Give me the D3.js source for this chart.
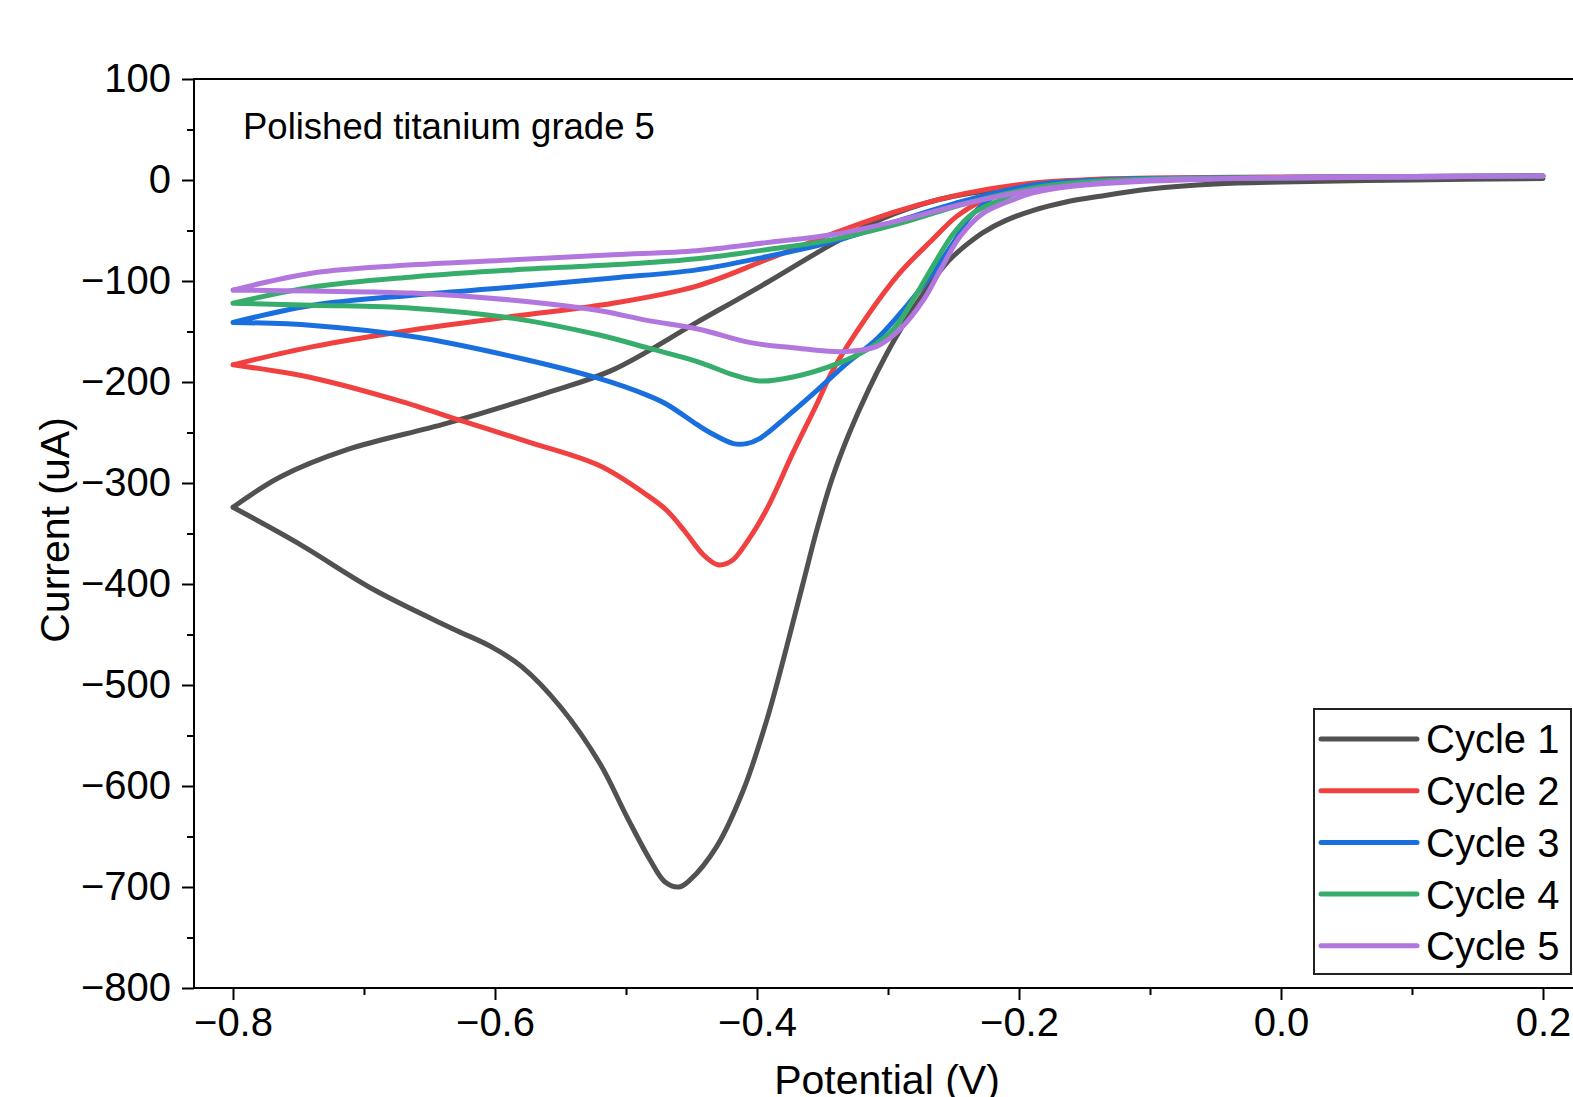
<!DOCTYPE html>
<html>
<head>
<meta charset="utf-8">
<script src="https://cdn.jsdelivr.net/npm/d3@7/dist/d3.min.js"></script>
<style>
  html, body { margin: 0; padding: 0; background: #fff; }
  svg { display: block; font-family: "Liberation Sans", Arial, Helvetica, sans-serif; }
</style>
</head>
<body>
<svg id="chart" width="1573" height="1097"></svg>
<script>
// ---- Data (Potential V, Current uA) ----
const seriesNames = ["Cycle 1", "Cycle 2", "Cycle 3", "Cycle 4", "Cycle 5"];
const seriesColors = ["#515151", "#F14040", "#1A6FDF", "#37AD6B", "#B177DE"];

// forward (cathodic) sweep: 0.2 V -> -0.8 V
const cycle1Forward = [[0.2,1.5],[0.1,0],[0.0,-2],[-0.05,-4],[-0.1,-9],[-0.138,-16],[-0.165,-22],[-0.189,-30],[-0.21,-40],[-0.2275,-52],[-0.24,-64],[-0.253,-79],[-0.265,-98],[-0.278,-122],[-0.29,-147],[-0.301,-172],[-0.315,-208],[-0.33,-252],[-0.343,-297],[-0.354,-345],[-0.365,-400],[-0.3773,-462],[-0.3926,-535],[-0.4104,-604],[-0.4308,-660],[-0.4511,-693],[-0.4595,-700],[-0.4702,-695],[-0.4817,-673],[-0.4995,-630],[-0.5198,-578],[-0.5498,-522],[-0.5794,-482],[-0.603,-462],[-0.6328,-444],[-0.692,-406],[-0.7511,-359],[-0.8,-324]];
// reverse (anodic) sweep: -0.8 V -> 0.2 V
const cycle1Reverse = [[-0.8,-324],[-0.764,-294],[-0.713,-267],[-0.637,-241],[-0.561,-211],[-0.51,-188],[-0.446,-141],[-0.393,-102],[-0.342,-63],[-0.304,-38],[-0.266,-21],[-0.215,-9],[-0.163,-3],[-0.1,0],[0.0,1.5],[0.1,1.8],[0.2,1.5]];

const cycle2Forward = [[0.2,4],[0.1,3],[0.0,2],[-0.1,1],[-0.15,-1],[-0.19,-5],[-0.21,-11],[-0.2275,-20],[-0.2476,-36],[-0.266,-59],[-0.291,-92],[-0.316,-135],[-0.342,-188],[-0.354,-221],[-0.3725,-270],[-0.393,-327],[-0.408,-359],[-0.4193,-377],[-0.4298,-381],[-0.441,-371],[-0.455,-348],[-0.469,-327],[-0.484,-312],[-0.52,-283],[-0.573,-260],[-0.624,-239],[-0.675,-218],[-0.739,-196],[-0.8,-183]];
const cycle2Reverse = [[-0.8,-183],[-0.739,-165],[-0.663,-148.5],[-0.586,-135],[-0.51,-122],[-0.446,-105],[-0.393,-79],[-0.342,-53],[-0.291,-30],[-0.24,-13],[-0.189,-3],[-0.138,1],[-0.1,2],[0.0,3],[0.1,3.5],[0.2,4]];

const cycle3Forward = [[0.2,4],[0.1,3],[0.0,2],[-0.1,0.5],[-0.15,-1.5],[-0.18,-4],[-0.2,-8],[-0.2145,-13],[-0.237,-36],[-0.25,-62],[-0.266,-92],[-0.286,-125],[-0.309,-158],[-0.331,-181],[-0.354,-208],[-0.377,-234],[-0.398,-256],[-0.408,-261],[-0.418,-261],[-0.436,-250],[-0.446,-242],[-0.469,-222],[-0.484,-213],[-0.522,-196],[-0.586,-175],[-0.663,-155],[-0.739,-144],[-0.8,-141]];
const cycle3Reverse = [[-0.8,-141],[-0.739,-124],[-0.663,-114],[-0.586,-106],[-0.51,-97],[-0.446,-89],[-0.393,-76],[-0.342,-61],[-0.291,-40],[-0.24,-20],[-0.189,-5],[-0.138,0],[-0.1,1.5],[0.0,2.5],[0.1,3.5],[0.2,4]];

const cycle4Forward = [[0.2,4],[0.1,3],[0.0,2],[-0.1,0.5],[-0.15,-2],[-0.18,-6],[-0.2,-12],[-0.2145,-20],[-0.235,-33],[-0.25,-53],[-0.266,-86],[-0.281,-119],[-0.296,-148],[-0.316,-168],[-0.337,-181],[-0.3725,-195],[-0.398,-199],[-0.418,-193],[-0.445,-180],[-0.484,-166],[-0.522,-153],[-0.586,-137],[-0.663,-127],[-0.739,-124],[-0.8,-122]];
const cycle4Reverse = [[-0.8,-122],[-0.739,-106],[-0.663,-96],[-0.586,-89],[-0.51,-84],[-0.446,-78],[-0.393,-69],[-0.342,-59],[-0.291,-43],[-0.24,-23],[-0.189,-8],[-0.138,-1],[-0.1,1],[0.0,2.5],[0.1,3.5],[0.2,4]];

const cycle5Forward = [[0.2,4],[0.1,3.5],[0.0,2.5],[-0.1,-1],[-0.14,-4],[-0.17,-8],[-0.19,-13],[-0.2015,-18],[-0.2275,-33],[-0.245,-56],[-0.26,-89],[-0.273,-119],[-0.291,-148],[-0.309,-165],[-0.335,-170],[-0.3725,-166],[-0.405,-161],[-0.4435,-148],[-0.484,-139],[-0.522,-129],[-0.586,-119],[-0.663,-112],[-0.739,-110],[-0.8,-109]];
const cycle5Reverse = [[-0.8,-109],[-0.739,-92],[-0.663,-84],[-0.586,-79],[-0.51,-74],[-0.446,-70],[-0.393,-62],[-0.342,-54],[-0.291,-40],[-0.24,-23],[-0.189,-10],[-0.138,-3],[-0.1,0],[0.0,2],[0.1,3],[0.2,4]];

const xMajorTicks = [-0.8, -0.6, -0.4, -0.2, 0.0, 0.2];
const xMinorTicks = [-0.7, -0.5, -0.3, -0.1, 0.1];
const yMajorTicks = [-800, -700, -600, -500, -400, -300, -200, -100, 0, 100];
const yMinorTicks = [-750, -650, -550, -450, -350, -250, -150, -50, 50];

const annotationText = "Polished titanium grade 5";
const xTitle = "Potential (V)";
const yTitle = "Current (uA)";

// ---- Layout ----
const cycles = [
  [cycle1Forward, cycle1Reverse],
  [cycle2Forward, cycle2Reverse],
  [cycle3Forward, cycle3Reverse],
  [cycle4Forward, cycle4Reverse],
  [cycle5Forward, cycle5Reverse]
];

const svg = d3.select("#chart");
const x = d3.scaleLinear().domain([-0.8, 0.2]).range([233, 1543]);
const y = d3.scaleLinear().domain([-800, 100]).range([988, 79]);
const xRightPx = 1700;

const axisColor = "#000";
const fmtX = d3.format(".1f");

// Bottom axis (major)
const gx = svg.append("g").attr("transform", `translate(0,${y(-800)})`);
gx.call(d3.axisBottom(x).tickValues(xMajorTicks).tickFormat(fmtX).tickSize(12).tickSizeOuter(0).tickPadding(8));
gx.select(".domain").remove();
gx.selectAll(".tick line").attr("stroke", axisColor).attr("stroke-width", 2);
gx.selectAll(".tick text").attr("font-size", 40).attr("fill", "#000")
  .attr("font-family", "'Liberation Sans', Arial, sans-serif");
// minor
const gxm = svg.append("g").attr("transform", `translate(0,${y(-800)})`);
gxm.call(d3.axisBottom(x).tickValues(xMinorTicks).tickFormat("").tickSize(7).tickSizeOuter(0));
gxm.select(".domain").remove();
gxm.selectAll(".tick line").attr("stroke", axisColor).attr("stroke-width", 2);

// Left axis
const gy = svg.append("g").attr("transform", `translate(194,0)`);
gy.call(d3.axisLeft(y).tickValues(yMajorTicks).tickFormat(d3.format("d")).tickSize(12).tickSizeOuter(0).tickPadding(11));
gy.select(".domain").remove();
gy.selectAll(".tick line").attr("stroke", axisColor).attr("stroke-width", 2);
gy.selectAll(".tick text").attr("font-size", 40).attr("fill", "#000")
  .attr("font-family", "'Liberation Sans', Arial, sans-serif");
const gym = svg.append("g").attr("transform", `translate(194,0)`);
gym.call(d3.axisLeft(y).tickValues(yMinorTicks).tickFormat("").tickSize(7).tickSizeOuter(0));
gym.select(".domain").remove();
gym.selectAll(".tick line").attr("stroke", axisColor).attr("stroke-width", 2);

// Frame lines
svg.append("line").attr("x1", 194).attr("x2", 194).attr("y1", y(100) - 1).attr("y2", y(-800) + 1)
  .attr("stroke", axisColor).attr("stroke-width", 2);
svg.append("line").attr("x1", 193).attr("x2", xRightPx).attr("y1", y(-800)).attr("y2", y(-800))
  .attr("stroke", axisColor).attr("stroke-width", 2);
svg.append("line").attr("x1", 193).attr("x2", xRightPx).attr("y1", y(100)).attr("y2", y(100))
  .attr("stroke", axisColor).attr("stroke-width", 2);

// Curves
const line = d3.line().x(d => x(d[0])).y(d => y(d[1])).curve(d3.curveCatmullRom.alpha(0.5));
svg.append("g").selectAll("path").data(cycles).join("path")
  .attr("d", d => line(d[0]) + line(d[1]))
  .attr("fill", "none")
  .attr("stroke", (d, i) => seriesColors[i])
  .attr("stroke-width", 5)
  .attr("stroke-linejoin", "round")
  .attr("stroke-linecap", "round");

// Annotation
svg.append("text").attr("x", 243).attr("y", 139).attr("font-size", 36.5).attr("fill", "#000")
  .text(annotationText);

// Axis titles
svg.append("text").attr("x", 887).attr("y", 1094).attr("text-anchor", "middle")
  .attr("font-size", 41).attr("fill", "#000").text(xTitle);
svg.append("text").attr("transform", `translate(69,530) rotate(-90)`).attr("text-anchor", "middle")
  .attr("font-size", 41).attr("fill", "#000").text(yTitle);

// Legend
const lg = svg.append("g");
lg.append("rect").attr("x", 1314).attr("y", 709).attr("width", 257).attr("height", 265)
  .attr("fill", "#fff").attr("stroke", "#222").attr("stroke-width", 2);
const items = lg.selectAll("g.item").data(seriesNames).join("g").attr("class", "item")
  .attr("transform", (d, i) => `translate(0,${739 + i * 51.7})`);
items.append("line").attr("x1", 1321).attr("x2", 1417).attr("y1", 0).attr("y2", 0)
  .attr("stroke", (d, i) => seriesColors[i]).attr("stroke-width", 5).attr("stroke-linecap", "round");
items.append("text").attr("x", 1426).attr("y", 0).attr("dy", "0.36em").attr("font-size", 40)
  .attr("fill", "#000").text(d => d);
</script>
</body>
</html>
